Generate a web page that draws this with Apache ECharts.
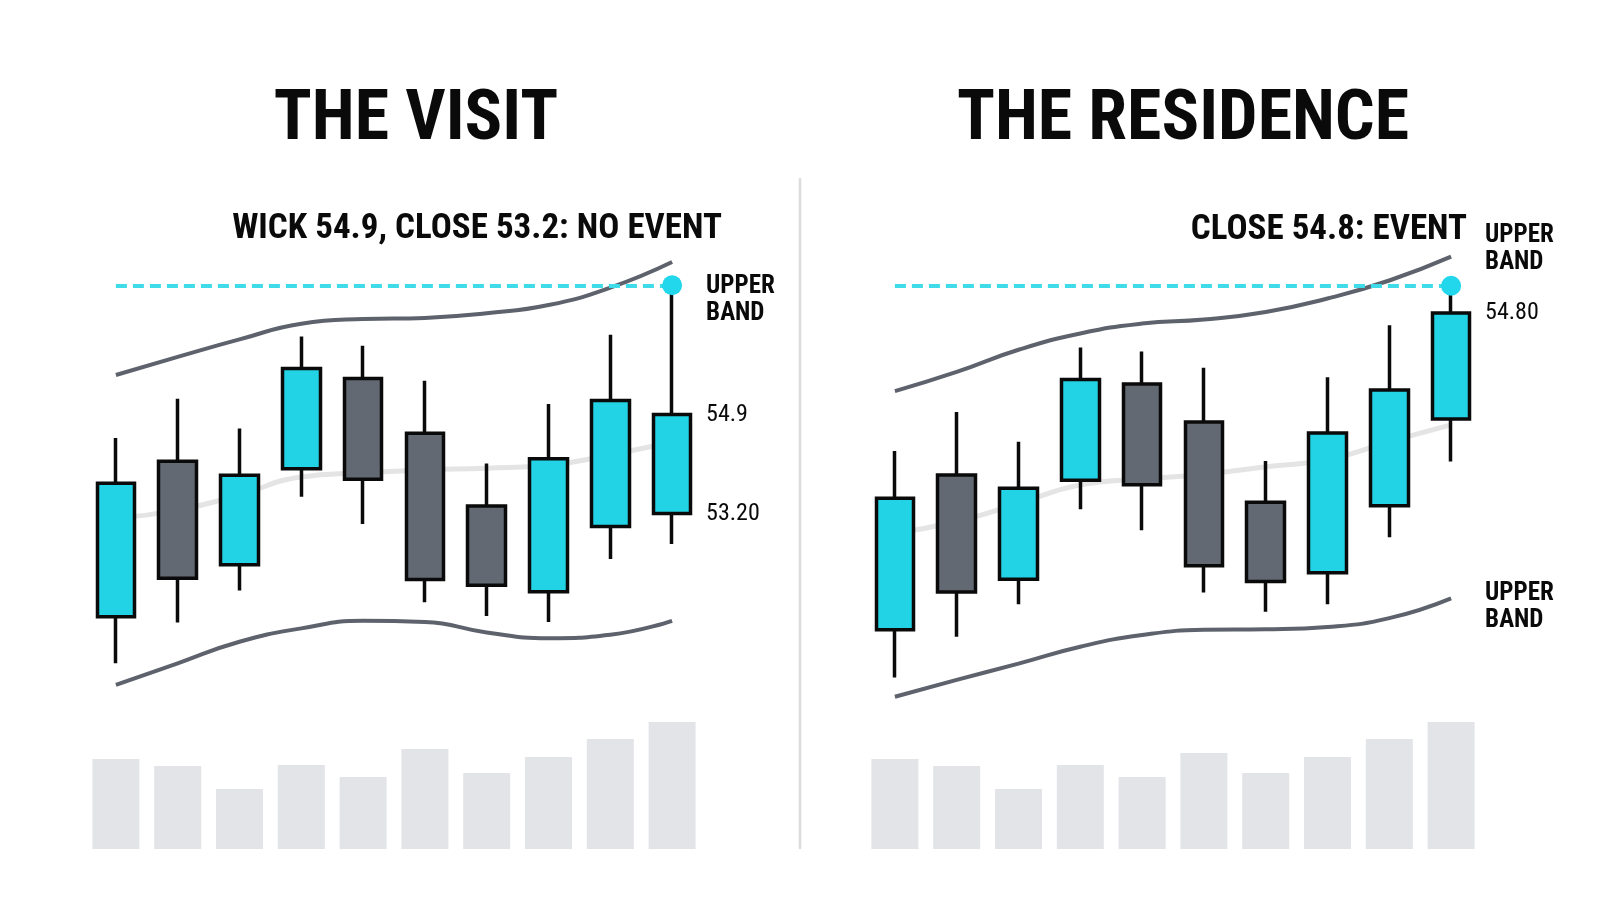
<!DOCTYPE html>
<html><head><meta charset="utf-8">
<script src="https://cdn.jsdelivr.net/npm/echarts@6/dist/echarts.min.js"></script>
<style>html,body{margin:0;padding:0;background:#fff}#c{width:1600px;height:914px}</style>
</head><body><div id="c"></div><script>
// ---------- data ----------
const categories = ['1','2','3','4','5','6','7','8','9','10'];

// [open, close, low, high]
const visitOHLC = [
  [51.43, 53.72, 50.63, 54.50],
  [54.10, 52.09, 51.33, 55.17],
  [52.32, 53.86, 51.88, 54.66],
  [53.97, 55.69, 53.49, 56.24],
  [55.52, 53.79, 53.02, 56.08],
  [54.58, 52.07, 51.68, 55.48],
  [53.33, 51.97, 51.44, 54.06],
  [51.86, 54.14, 51.34, 55.08],
  [52.98, 55.14, 52.42, 56.27],
  [53.20, 54.90, 52.68, 57.12]
];
const visitUpper = [55.58, 55.89, 56.19, 56.46, 56.54, 56.56, 56.64, 56.78, 57.08, 57.52];
const visitLower = [50.26, 50.63, 51.00, 51.23, 51.36, 51.34, 51.16, 51.06, 51.12, 51.36];
const visitMid   = [53.12, 53.26, 53.52, 53.83, 53.90, 53.95, 53.98, 54.03, 54.21, 54.43];
const visitVolume = [90, 83, 60, 84, 72, 100, 76, 92, 110, 127];
const visitThreshold = 57.12;
const visitLabels = [[9, 54.9, '54.9'], [9, 53.2, '53.20']];

const residenceOHLC = [
  [49.36, 51.62, 48.54, 52.43],
  [52.02, 50.01, 49.24, 53.10],
  [50.23, 51.79, 49.80, 52.59],
  [51.93, 53.66, 51.43, 54.21],
  [53.58, 51.85, 51.07, 54.14],
  [52.93, 50.46, 50.00, 53.86],
  [51.55, 50.19, 49.67, 52.26],
  [50.34, 52.74, 49.80, 53.70],
  [51.49, 53.48, 50.95, 54.59],
  [52.98, 54.80, 52.25, 55.27]
];
const residenceUpper = [53.46, 53.79, 54.17, 54.45, 54.62, 54.69, 54.82, 55.05, 55.36, 55.77];
const residenceLower = [48.21, 48.50, 48.78, 49.07, 49.27, 49.36, 49.37, 49.41, 49.56, 49.90];
const residenceMid   = [51.02, 51.22, 51.53, 51.85, 51.95, 52.03, 52.16, 52.28, 52.59, 52.88];
const residenceVolume = [90, 83, 60, 84, 72, 96, 76, 92, 110, 127];
const residenceThreshold = 55.27;
const residenceLabels = [[9, 54.8, '54.80']];

const titles = ['THE VISIT', 'THE RESIDENCE'];
const subtitles = ['WICK 54.9, CLOSE 53.2: NO EVENT', 'CLOSE 54.8: EVENT'];
const bandLabel = 'UPPER\nBAND';

// ---------- styles ----------
const COND = "'Roboto Condensed','Liberation Sans Narrow','DejaVu Sans Condensed','Arial Narrow',sans-serif";
const CYAN = '#22d3e6';
const DOT = '#22d6ec';
const GRAY = '#636973';
const BAND = '#5d626c';
const MID = '#e4e4e4';
const VOL = '#e2e4e7';
const INK = '#0a0a0a';

const chart = echarts.init(document.getElementById('c'), null, {renderer: 'canvas'});

function hiddenCat(grid) {
  return {type: 'category', gridIndex: grid, data: categories, boundaryGap: true, show: false};
}
function hiddenVal(grid, min, max) {
  return {type: 'value', gridIndex: grid, min: min, max: max, show: false, splitLine: {show: false}};
}
const boldLabel = {fontFamily: COND, fontWeight: 'bold', fontSize: 25, lineHeight: 27, color: INK, opacity: 1, align: 'left'};
const valueLabel = {fontFamily: COND, fontWeight: 'normal', fontSize: 24, color: INK, opacity: 1, align: 'left'};

function panelSeries(pi, ohlc, upper, lower, mid, vol, thr, labels, upperLbl, lowerLbl, dotLbl) {
  const xi = pi * 2, vi = pi * 2 + 1;
  const s = [];
  s.push({type: 'bar', xAxisIndex: vi, yAxisIndex: vi, data: vol, barWidth: 47,
    itemStyle: {color: VOL}, silent: true, z: 1});
  s.push({type: 'line', xAxisIndex: xi, yAxisIndex: xi, data: mid, smooth: 0.5, symbol: 'none',
    lineStyle: {color: MID, width: 5}, silent: true, z: 2});
  const up = {type: 'line', xAxisIndex: xi, yAxisIndex: xi, data: upper, smooth: 0.5, symbol: 'none',
    lineStyle: {color: BAND, width: 4}, silent: true, z: 3};
  if (upperLbl) up.endLabel = Object.assign({show: true, formatter: bandLabel, distance: 34, offset: [0, -7]}, boldLabel);
  s.push(up);
  const lo = {type: 'line', xAxisIndex: xi, yAxisIndex: xi, data: lower, smooth: 0.5, symbol: 'none',
    lineStyle: {color: BAND, width: 4}, silent: true, z: 3};
  if (lowerLbl) lo.endLabel = Object.assign({show: true, formatter: bandLabel, distance: 34, offset: [0, 9]}, boldLabel);
  s.push(lo);
  s.push({type: 'candlestick', xAxisIndex: xi, yAxisIndex: xi, data: ohlc, barWidth: 38,
    itemStyle: {color: CYAN, color0: GRAY, borderColor: INK, borderColor0: INK, borderColorDoji: INK, borderWidth: 3.5},
    silent: true, z: 4});
  const dot = {type: 'scatter', xAxisIndex: xi, yAxisIndex: xi, data: [[9, thr]], symbolSize: 20,
    itemStyle: {color: DOT, opacity: 1}, silent: true, z: 6,
    markLine: {silent: true, symbol: 'none', label: {show: false},
      lineStyle: {color: '#3fdbe9', width: 4, type: [11, 6], opacity: 1},
      data: [[{coord: [0, thr]}, {coord: [9, thr]}]], z: 5}};
  if (dotLbl) dot.label = Object.assign({show: true, formatter: bandLabel, position: 'right', distance: 24, offset: [0, 15]}, boldLabel);
  s.push(dot);
  s.push({type: 'scatter', xAxisIndex: xi, yAxisIndex: xi, data: labels, symbolSize: 0, silent: true, z: 6,
    itemStyle: {opacity: 1},
    label: Object.assign({show: true, position: 'right', distance: 34, formatter: p => p.value[2]}, valueLabel)});
  return s;
}

const option = {
  backgroundColor: '#ffffff',
  animation: false,
  grid: [
    {left: 85, width: 618, top: 234, height: 466},
    {left: 85, width: 618, top: 719, height: 130},
    {left: 864, width: 618, top: 185, height: 524},
    {left: 864, width: 618, top: 719, height: 130}
  ],
  xAxis: [hiddenCat(0), hiddenCat(1), hiddenCat(2), hiddenCat(3)],
  yAxis: [hiddenVal(0, 50, 58), hiddenVal(1, 0, 130), hiddenVal(2, 48, 57), hiddenVal(3, 0, 130)],
  graphic: [
    {type: 'line', shape: {x1: 800, y1: 178, x2: 800, y2: 849}, style: {stroke: '#dcdcdc', lineWidth: 2.5}, silent: true},
    {type: 'text', x: 416, y: 121, style: {text: titles[0], font: "bold 70px " + COND, fill: INK, textAlign: 'center', textVerticalAlign: 'middle'}},
    {type: 'text', x: 1183, y: 121, style: {text: titles[1], font: "bold 70px " + COND, fill: INK, textAlign: 'center', textVerticalAlign: 'middle'}},
    {type: 'text', x: 477, y: 229.5, style: {text: subtitles[0], font: "bold 35px " + COND, fill: INK, textAlign: 'center', textVerticalAlign: 'middle'}},
    {type: 'text', x: 1467, y: 230, style: {text: subtitles[1], font: "bold 35px " + COND, fill: INK, textAlign: 'right', textVerticalAlign: 'middle'}}
  ],
  series: [].concat(
    panelSeries(0, visitOHLC, visitUpper, visitLower, visitMid, visitVolume, visitThreshold, visitLabels, false, false, true),
    panelSeries(1, residenceOHLC, residenceUpper, residenceLower, residenceMid, residenceVolume, residenceThreshold, residenceLabels, true, true, false)
  )
};
chart.setOption(option);
</script></body></html>
